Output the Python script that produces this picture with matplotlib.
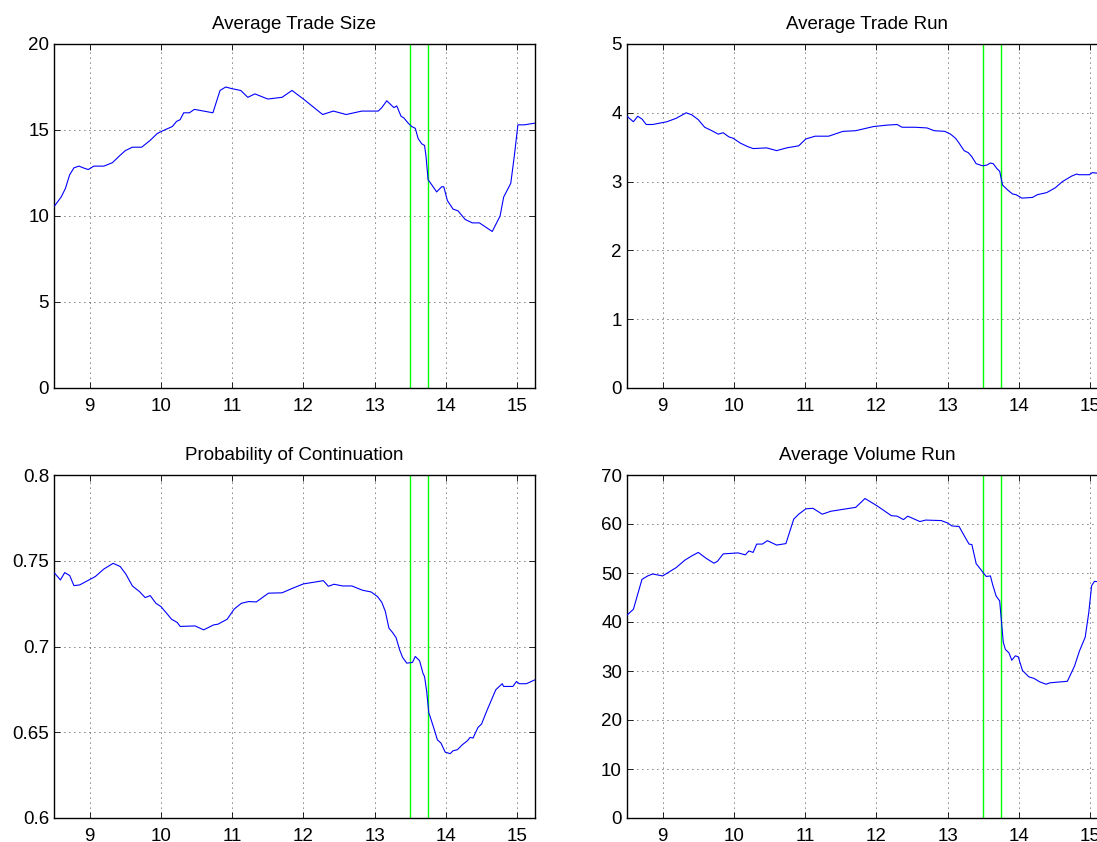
import matplotlib
matplotlib.use("Agg")
import matplotlib.pyplot as plt
import numpy as np

plt.rcParams['font.family'] = ['Liberation Sans', 'DejaVu Sans']

# Time of day (hours) and series values
t_size = [8.51, 8.6, 8.66, 8.72, 8.78, 8.85, 8.91, 8.98, 9.06, 9.2, 9.32, 9.42, 9.5, 9.6, 9.73,
          9.85, 9.95, 10.05, 10.16, 10.22, 10.27, 10.32, 10.4, 10.47, 10.6, 10.73, 10.83, 10.91,
          11.0, 11.12, 11.22, 11.32, 11.5, 11.7, 11.84, 12.0, 12.15, 12.27, 12.42, 12.6, 12.82,
          13.05, 13.1, 13.17, 13.27, 13.31, 13.37, 13.41, 13.47, 13.52, 13.57, 13.61, 13.66, 13.7,
          13.72, 13.75, 13.77, 13.82, 13.87, 13.94, 13.97, 14.02, 14.1, 14.17, 14.27, 14.37, 14.47,
          14.65, 14.76, 14.81, 14.91, 14.96, 15.01, 15.1, 15.25]
trade_size = [10.6, 11.1, 11.6, 12.4, 12.8, 12.9, 12.8, 12.7, 12.9, 12.9, 13.1, 13.5, 13.8, 14.0, 14.0,
              14.4, 14.8, 15.0, 15.2, 15.5, 15.6, 16.0, 16.0, 16.2, 16.1, 16.0, 17.3, 17.5,
              17.4, 17.3, 16.9, 17.1, 16.8, 16.9, 17.3, 16.8, 16.3, 15.9, 16.1, 15.9, 16.1,
              16.1, 16.3, 16.7, 16.3, 16.4, 15.8, 15.7, 15.4, 15.2, 15.1, 14.5, 14.2, 14.1,
              13.5, 12.1, 12.0, 11.7, 11.4, 11.7, 11.7, 10.9, 10.4, 10.3, 9.8, 9.6, 9.6,
              9.1, 10.0, 11.1, 11.9, 13.5, 15.3, 15.3, 15.4]

t_run = [8.5, 8.59, 8.65, 8.71, 8.77, 8.86, 9.06, 9.19, 9.33, 9.41, 9.5, 9.59, 9.69, 9.78, 9.85,
         9.93, 9.99, 10.09, 10.19, 10.27, 10.46, 10.6, 10.74, 10.91, 11.01, 11.14, 11.33, 11.53,
         11.71, 11.96, 12.14, 12.29, 12.36, 12.54, 12.71, 12.81, 12.96, 13.04, 13.11, 13.16, 13.23,
         13.29, 13.34, 13.4, 13.49, 13.55, 13.6, 13.64, 13.69, 13.73, 13.77, 13.84, 13.91, 13.96,
         14.04, 14.19, 14.26, 14.39, 14.51, 14.61, 14.74, 14.81, 14.84, 14.99, 15.03, 15.13, 15.25]
trade_run = [3.95, 3.87, 3.95, 3.91, 3.83, 3.83, 3.87, 3.92, 4.0, 3.97, 3.90, 3.79, 3.74, 3.69, 3.71,
             3.65, 3.63, 3.56, 3.51, 3.48, 3.49, 3.45, 3.49, 3.52, 3.62, 3.66, 3.66, 3.73,
             3.74, 3.80, 3.82, 3.83, 3.79, 3.79, 3.78, 3.74, 3.73, 3.69, 3.63, 3.56, 3.45,
             3.42, 3.36, 3.26, 3.23, 3.24, 3.27, 3.26, 3.19, 3.15, 2.95, 2.88, 2.82, 2.81,
             2.76, 2.77, 2.81, 2.84, 2.91, 3.0, 3.08, 3.11, 3.10, 3.10, 3.13, 3.12, 3.12]

t_prob = [8.51, 8.59, 8.65, 8.72, 8.78, 8.86, 9.08, 9.2, 9.33, 9.43, 9.51, 9.6, 9.7, 9.78, 9.85,
          9.93, 10.0, 10.08, 10.15, 10.23, 10.27, 10.48, 10.6, 10.74, 10.8, 10.93, 11.03, 11.13,
          11.23, 11.34, 11.51, 11.7, 11.85, 12.0, 12.15, 12.28, 12.35, 12.43, 12.55, 12.68, 12.83,
          12.95, 13.04, 13.1, 13.15, 13.2, 13.25, 13.3, 13.35, 13.39, 13.45, 13.53, 13.57, 13.63,
          13.68, 13.7, 13.73, 13.76, 13.77, 13.83, 13.88, 13.93, 13.99, 14.06, 14.1, 14.16, 14.23,
          14.3, 14.34, 14.38, 14.45, 14.5, 14.58, 14.7, 14.79, 14.81, 14.94, 14.99, 15.03, 15.13, 15.25]
prob_cont = [0.7427, 0.7388, 0.7431, 0.7414, 0.7355, 0.7359, 0.7408, 0.7452, 0.7485, 0.7466, 0.7421,
             0.7353, 0.7320, 0.7285, 0.7297, 0.7252, 0.7233, 0.7194, 0.7159, 0.7140, 0.7117, 0.7120,
             0.7097, 0.7126, 0.7130, 0.7159, 0.7219, 0.7252, 0.7262, 0.7260, 0.7311, 0.7313, 0.7340,
             0.7365, 0.7375, 0.7384, 0.7351, 0.7363, 0.7353, 0.7353, 0.7328, 0.7318, 0.7291, 0.7258,
             0.7204, 0.7107, 0.7082, 0.7052, 0.6981, 0.6938, 0.6903, 0.6907, 0.6942, 0.6917, 0.6841,
             0.6825, 0.6738, 0.6612, 0.6602, 0.6524, 0.6456, 0.6437, 0.6384, 0.6375, 0.6392, 0.6398,
             0.6427, 0.6450, 0.6470, 0.6466, 0.6528, 0.6548, 0.6631, 0.6748, 0.6783, 0.6767, 0.6767,
             0.6796, 0.6783, 0.6783, 0.6806]

t_vol = [8.5, 8.59, 8.71, 8.79, 8.86, 9.0, 9.19, 9.31, 9.41, 9.5, 9.61, 9.72, 9.77, 9.85, 10.06,
         10.16, 10.21, 10.27, 10.32, 10.4, 10.47, 10.6, 10.73, 10.84, 10.91, 11.01, 11.11, 11.24,
         11.36, 11.71, 11.84, 12.01, 12.21, 12.29, 12.38, 12.44, 12.61, 12.69, 12.91, 13.0, 13.06,
         13.16, 13.24, 13.3, 13.34, 13.4, 13.46, 13.54, 13.6, 13.63, 13.68, 13.73, 13.78, 13.81,
         13.86, 13.9, 13.95, 13.99, 14.05, 14.14, 14.21, 14.29, 14.38, 14.44, 14.68, 14.78, 14.85,
         14.93, 14.98, 15.02, 15.06, 15.13, 15.25]
vol_run = [41.4, 42.6, 48.7, 49.4, 49.8, 49.4, 51.1, 52.6, 53.5, 54.2, 53.0, 52.0, 52.4, 53.9, 54.1,
           53.7, 54.5, 54.2, 55.9, 55.9, 56.6, 55.7, 56.0, 61.0, 62.0, 63.1, 63.2, 62.0,
           62.6, 63.4, 65.2, 63.7, 61.7, 61.6, 60.9, 61.6, 60.5, 60.8, 60.7, 60.2, 59.6,
           59.5, 57.4, 55.9, 55.8, 51.9, 50.8, 49.3, 49.4, 47.7, 45.3, 44.3, 35.9, 34.4,
           33.7, 32.2, 33.1, 32.9, 30.1, 28.8, 28.5, 27.8, 27.3, 27.6, 27.9, 31.0, 34.1,
           36.9, 41.9, 47.4, 48.3, 48.2, 48.2]

event_times = [13.5, 13.75]
x_ticks = [9, 10, 11, 12, 13, 14, 15]

panels = [
    ("Average Trade Size", t_size, trade_size, (0, 20), [0, 5, 10, 15, 20], ["0", "5", "10", "15", "20"]),
    ("Average Trade Run", t_run, trade_run, (0, 5), [0, 1, 2, 3, 4, 5], ["0", "1", "2", "3", "4", "5"]),
    ("Probability of Continuation", t_prob, prob_cont, (0.6, 0.8), [0.6, 0.65, 0.7, 0.75, 0.8],
     ["0.6", "0.65", "0.7", "0.75", "0.8"]),
    ("Average Volume Run", t_vol, vol_run, (0, 70), [0, 10, 20, 30, 40, 50, 60, 70],
     ["0", "10", "20", "30", "40", "50", "60", "70"]),
]

W, H = 1097, 842
fig = plt.figure(figsize=(W / 100, H / 100), dpi=100)

# axes boxes in pixels: (left, top, right, bottom)
boxes = [(54, 44, 535, 388), (627, 44, 1108, 388),
         (54, 475, 535, 818), (627, 475, 1108, 818)]

for (title, tx, vy, ylim, yt, ytl), (l, tp, r, b) in zip(panels, boxes):
    ax = fig.add_axes([l / W, 1 - b / H, (r - l) / W, (b - tp) / H])
    ax.plot(tx, vy, color=(0, 0, 1), lw=0.8, zorder=3)
    for et in event_times:
        ax.axvline(et, color=(0, 1, 0), lw=1.0, zorder=2)
    ax.set_xlim(8.5, 15.25)
    ax.set_ylim(*ylim)
    ax.set_xticks(x_ticks)
    ax.set_xticklabels([str(v) for v in x_ticks])
    ax.set_yticks(yt)
    ax.set_yticklabels(ytl)
    ax.grid(True, color='black', linestyle=(0, (1, 5)), lw=0.6)
    ax.tick_params(direction='in', top=True, right=True, length=4, width=0.6,
                   labelsize=13.5, colors='black')
    ax.tick_params(axis='y', pad=3.6)
    ax.tick_params(axis='x', pad=7.5)
    for s in ax.spines.values():
        s.set_linewidth(1.0)
    ax.set_title(title, fontsize=13.5, pad=11)

fig.savefig("out.png", dpi=100)
